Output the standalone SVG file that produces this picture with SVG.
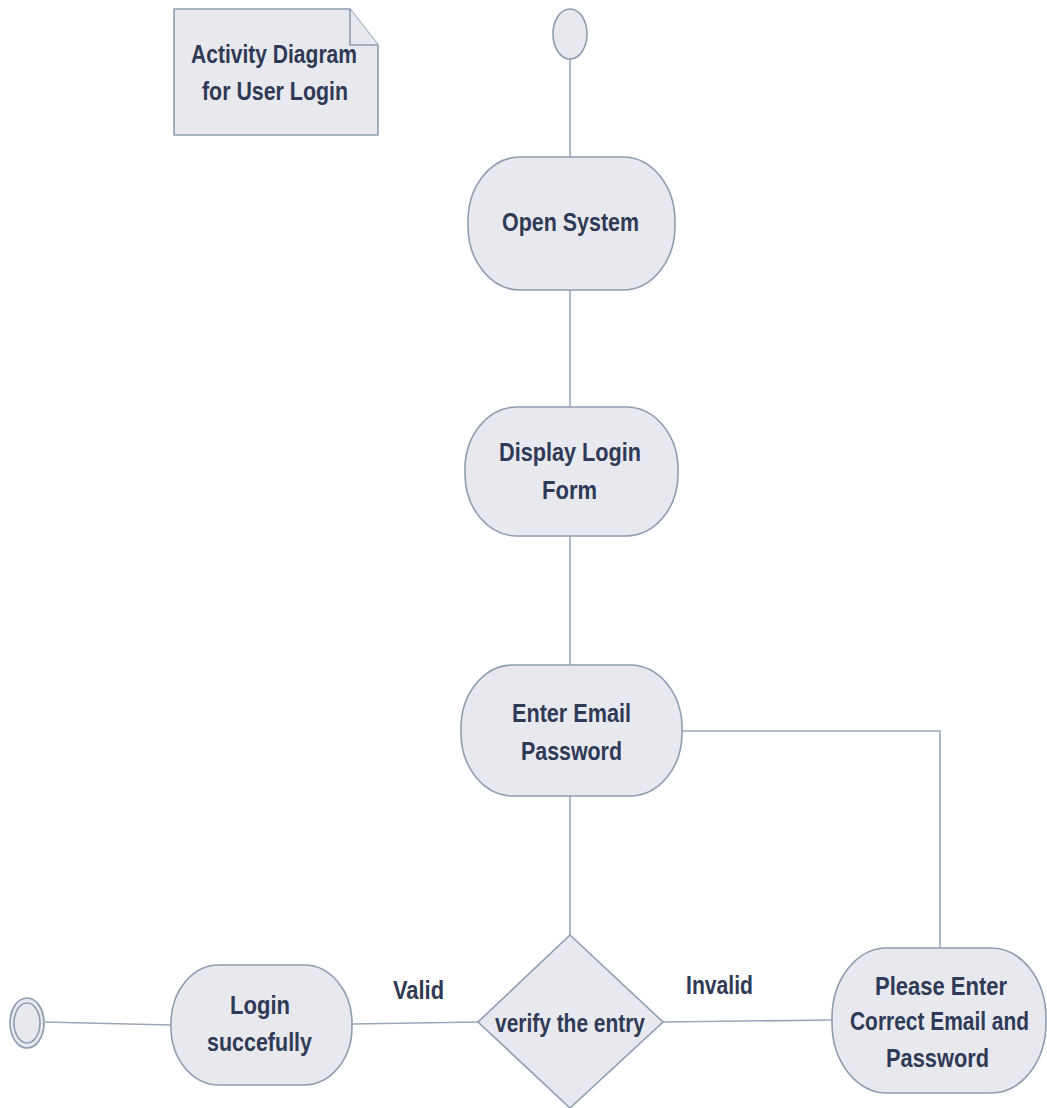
<svg xmlns="http://www.w3.org/2000/svg" width="1047" height="1108" viewBox="0 0 1047 1108">
<style>
.s{fill:#e8e9ee;stroke:#8e9cb2;stroke-width:1.6}
.c{fill:none;stroke:#9aa7ba;stroke-width:1.6}
.t{font-family:"Liberation Sans",Arial,sans-serif;font-weight:bold;font-size:25px;fill:#2f3a56}
</style>
<rect width="1047" height="1108" fill="#ffffff"/>
<g id="connectors">
<line class="c" x1="570" y1="59" x2="570" y2="157"/>
<line class="c" x1="570" y1="290" x2="570" y2="407"/>
<line class="c" x1="570" y1="536" x2="570" y2="665"/>
<line class="c" x1="570" y1="796" x2="570" y2="935"/>
<polyline class="c" points="682,731 940,731 940,948"/>
<line class="c" x1="663" y1="1022" x2="832" y2="1020"/>
<line class="c" x1="352" y1="1024" x2="478" y2="1022"/>
<line class="c" x1="45" y1="1022" x2="171" y2="1025"/>
<text class="t" x="393" y="999" textLength="51" lengthAdjust="spacingAndGlyphs">Valid</text>
<text class="t" x="686" y="994" textLength="67" lengthAdjust="spacingAndGlyphs">Invalid</text>
</g>
<g id="note">
<path class="s" d="M174,9 H350 L378,45 V135 H174 Z"/>
<path class="s" d="M350,9 V45 H378"/>
<text class="t" x="191" y="63" textLength="166" lengthAdjust="spacingAndGlyphs">Activity Diagram</text>
<text class="t" x="202" y="100" textLength="146" lengthAdjust="spacingAndGlyphs">for User Login</text>
</g>
<g id="start">
<ellipse class="s" cx="570" cy="34" rx="17" ry="25"/>
</g>
<g id="open-system">
<rect class="s" x="468" y="157" width="207" height="133" rx="52" ry="64"/>
<text class="t" x="502" y="231" textLength="137" lengthAdjust="spacingAndGlyphs">Open System</text>
</g>
<g id="display-login">
<rect class="s" x="465" y="407" width="213" height="129" rx="52" ry="62"/>
<text class="t" x="499" y="461" textLength="142" lengthAdjust="spacingAndGlyphs">Display Login</text>
<text class="t" x="542" y="499" textLength="55" lengthAdjust="spacingAndGlyphs">Form</text>
</g>
<g id="enter-email">
<rect class="s" x="461" y="665" width="221" height="131" rx="52" ry="63"/>
<text class="t" x="512" y="722" textLength="119" lengthAdjust="spacingAndGlyphs">Enter Email</text>
<text class="t" x="521" y="760" textLength="101" lengthAdjust="spacingAndGlyphs">Password</text>
</g>
<g id="verify">
<polygon class="s" points="570,935 663,1022 570,1108 478,1022"/>
<text class="t" x="495" y="1032" textLength="150" lengthAdjust="spacingAndGlyphs">verify the entry</text>
</g>
<g id="please-enter">
<rect class="s" x="832" y="948" width="214" height="145" rx="55" ry="70"/>
<text class="t" x="875" y="995" textLength="132" lengthAdjust="spacingAndGlyphs">Please Enter</text>
<text class="t" x="850" y="1030" textLength="179" lengthAdjust="spacingAndGlyphs">Correct Email and</text>
<text class="t" x="886" y="1067" textLength="103" lengthAdjust="spacingAndGlyphs">Password</text>
</g>
<g id="login-success">
<rect class="s" x="171" y="965" width="181" height="120" rx="48" ry="58"/>
<text class="t" x="230" y="1014" textLength="60" lengthAdjust="spacingAndGlyphs">Login</text>
<text class="t" x="207" y="1051" textLength="105" lengthAdjust="spacingAndGlyphs">succefully</text>
</g>
<g id="end">
<ellipse class="s" cx="27" cy="1023" rx="17" ry="25"/>
<ellipse class="s" cx="27" cy="1023" rx="13" ry="20"/>
</g>
</svg>
